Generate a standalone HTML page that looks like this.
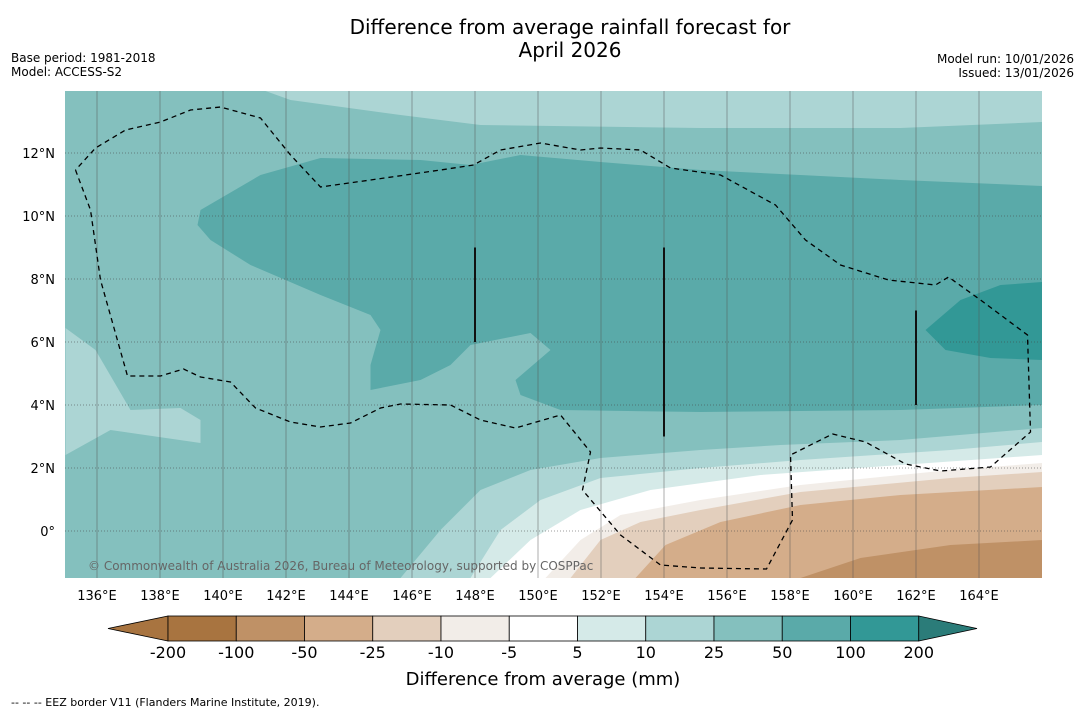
<!DOCTYPE html>
<html><head><meta charset="utf-8"><style>
body{margin:0;background:#fff;width:1085px;height:713px;overflow:hidden;font-family:"DejaVu Sans",sans-serif}
svg{position:absolute;left:0;top:0}
</style></head><body>
<svg id="chart" width="1085" height="713" font-family="DejaVu Sans, Liberation Sans, sans-serif">
<text x="570" y="34" font-size="20" text-anchor="middle">Difference from average rainfall forecast for</text>
<text x="570" y="57" font-size="20" text-anchor="middle">April 2026</text>
<text x="11" y="62" font-size="12">Base period: 1981-2018</text>
<text x="11" y="76" font-size="12">Model: ACCESS-S2</text>
<text x="1074" y="63" font-size="12" text-anchor="end">Model run: 10/01/2026</text>
<text x="1074" y="77" font-size="12" text-anchor="end">Issued: 13/01/2026</text>
<defs><clipPath id="mc"><rect x="65" y="91" width="977" height="487"/></clipPath></defs>
<g id="map" clip-path="url(#mc)"></g>
<g id="axes"></g>
<g id="cbar"></g>
<text x="543" y="685" font-size="18" text-anchor="middle">Difference from average (mm)</text>
<text x="11" y="706" font-size="11">--  --  -- EEZ border V11 (Flanders Marine Institute, 2019).</text>
</svg>
<script>
const levels=[-200,-100,-50,-25,-10,-5,5,10,25,50,100,200];
const colors=["#a87440","#bf9166","#d4ad8a","#e3cfbd","#f2ede8","#ffffff","#d5eae8","#acd5d4","#84c0be","#5aaaa9","#329896","#2b7c79"];
const lonTicks=[136,138,140,142,144,146,148,150,152,154,156,158,160,162,164];
const latTicks=[0,2,4,6,8,10,12];
const P=(a)=>a.map(([px,py])=>[135+(px-65)/31.5,(531-py)/31.5]);
const regions=[
[7,P([[265,91],[290,100],[400,115],[480,125],[700,128],[900,128],[1042,122],[1042,91]])],
[7,P([[65,328],[95,350],[130,410],[180,408],[200,420],[200,443],[110,430],[65,455]])],
[7,P([[400,578],[440,530],[480,490],[530,470],[600,458],[700,450],[780,445],[900,440],[1042,428],[1042,578]])],
[6,P([[470,578],[500,530],[540,500],[600,478],[700,468],[800,460],[950,450],[1042,442],[1042,578]])],
[5,P([[490,578],[530,540],[580,510],[650,490],[760,475],[900,465],[1042,455],[1042,578]])],
[4,P([[545,578],[580,540],[620,515],[700,500],[800,485],[950,470],[1042,463],[1042,578]])],
[3,P([[570,578],[600,540],[640,522],[700,510],[800,492],[950,478],[1042,472],[1042,578]])],
[2,P([[635,578],[665,545],[720,522],[800,505],[900,495],[1042,487],[1042,578]])],
[1,P([[800,578],[860,558],[950,545],[1042,540],[1042,578]])],
[9,P([[200,210],[260,175],[320,158],[420,160],[470,165],[520,155],[600,162],[700,170],[800,175],[900,180],[1042,186],[1042,405],[900,410],[700,412],[560,410],[520,395],[515,380],[550,350],[530,333],[470,345],[450,365],[420,380],[370,390],[370,365],[380,330],[370,315],[320,295],[250,265],[210,240],[197,225]])],
[10,P([[925,330],[960,300],[1000,285],[1042,282],[1042,360],[990,358],[945,350]])]
];
const eez=P([[75,170],[90,210],[100,280],[127,376],[160,376],[183,369],[200,377],[230,382],[255,408],[290,422],[320,427],[350,423],[380,408],[400,404],[450,405],[480,420],[515,428],[560,415],[590,452],[582,490],[620,535],[660,565],[700,568],[766,569],[792,520],[790,455],[832,434],[865,442],[905,464],[940,471],[990,467],[1030,432],[1027,335],[980,300],[948,277],[935,285],[888,280],[840,265],[805,240],[775,205],[720,175],[670,168],[640,150],[600,148],[580,150],[540,143],[500,150],[473,165],[440,170],[370,180],[320,187],[290,155],[260,118],[220,107],[190,110],[160,122],[125,130],[95,148],[75,170]]);
const segLines=[[148,9,6],[154,9,3],[162,7,4]];
const xs=l=>97+(l-136)*31.5, ys=a=>531-a*31.5;
const NS="http://www.w3.org/2000/svg";
function mk(t,at,par){const e=document.createElementNS(NS,t);for(const k in at)e.setAttribute(k,at[k]);par.appendChild(e);return e;}
const map=document.getElementById('map'),axes=document.getElementById('axes'),cb=document.getElementById('cbar');
const bg=mk('rect',{x:65,y:91,width:977,height:487,fill:colors[8]},map);


regions.forEach(([c,pts],i)=>{
 const p=mk('polygon',{points:pts.map(([lo,la])=>xs(lo)+','+ys(la)).join(' '),fill:colors[c]},map);
 
 
});
lonTicks.forEach(l=>{const g=mk('line',{x1:xs(l),x2:xs(l),y1:91,y2:578,stroke:'#555','stroke-width':0.8,opacity:0.6},map);
 
 
 const t=mk('text',{x:xs(l),y:600,'font-size':13,'text-anchor':'middle'},axes);t.textContent=l+'°E';
 
 });
latTicks.forEach(a=>{const g=mk('line',{x1:65,x2:1042,y1:ys(a),y2:ys(a),stroke:'#444','stroke-width':0.8,'stroke-dasharray':'1,2',opacity:0.7},map);
 
 
 const t=mk('text',{x:55,y:ys(a)+5,'font-size':13,'text-anchor':'end'},axes);t.textContent=a+'°'+(a?'N':'');
 
 });
const ez=mk('polyline',{points:eez.map(([lo,la])=>xs(lo)+','+ys(la)).join(' '),fill:'none',stroke:'#000','stroke-width':1.3,'stroke-dasharray':'5,4'},map);


segLines.forEach(([lo,a1,a2])=>{const l=mk('line',{x1:xs(lo),x2:xs(lo),y1:ys(a1),y2:ys(a2),stroke:'#111','stroke-width':2},map);
 
 });
const cr=mk('text',{x:88,y:570,'font-size':12,fill:'#666'},map);cr.textContent='© Commonwealth of Australia 2026, Bureau of Meteorology, supported by COSPPac';


const cx0=168,cw=68.25,cy=616,ch=25;
const tl=mk('polygon',{points:`108,${cy+ch/2} ${cx0},${cy} ${cx0},${cy+ch}`,fill:colors[0],stroke:'#000','stroke-width':0.8},cb);


for(let i=0;i<11;i++){const r=mk('rect',{x:cx0+i*cw,y:cy,width:cw,height:ch,fill:colors[i],stroke:'#000','stroke-width':0.8},cb);
 
 }
const tr=mk('polygon',{points:`${cx0+11*cw},${cy} 977,${cy+ch/2} ${cx0+11*cw},${cy+ch}`,fill:colors[11],stroke:'#000','stroke-width':0.8},cb);


levels.forEach((v,i)=>{const t=mk('text',{x:cx0+i*cw,y:658,'font-size':16,'text-anchor':'middle'},cb);t.textContent=v;
 
 });
</script>
</body></html>
